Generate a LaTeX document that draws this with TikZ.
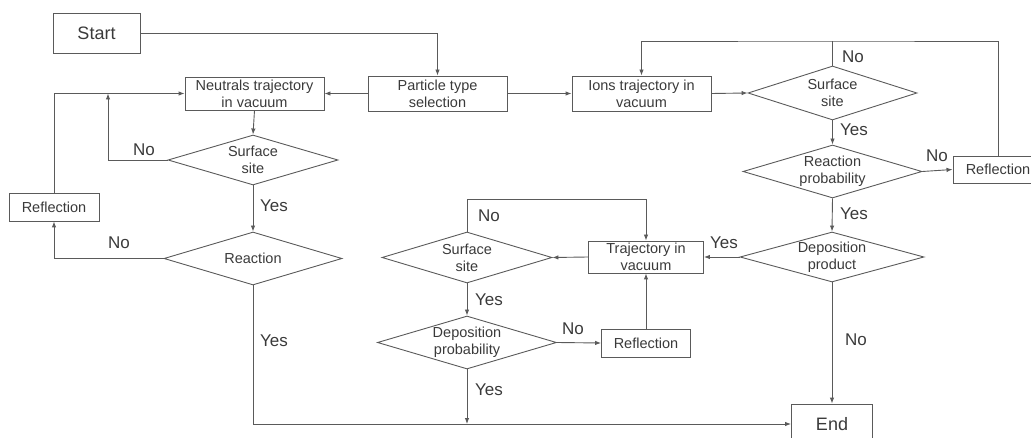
\documentclass[tikz,border=0pt]{standalone}
\usepackage{fontspec}
\setmainfont{Liberation Sans}
\usetikzlibrary{shapes.geometric,arrows.meta}
\definecolor{linegray}{HTML}{5A5A5A}
\definecolor{textgray}{HTML}{3A3A3A}

\begin{document}
\begin{tikzpicture}[x=1pt,y=-1pt,line width=0.9pt,color=linegray,
		>={Latex[length=6pt,width=4.5pt]},
		every node/.style={text=textgray},
		txt/.style={font=\fontsize{14.5}{17}\selectfont,align=center},
		box/.style={txt,draw,rectangle,inner sep=1pt},
		terminal/.style={draw,rectangle,inner sep=1pt,font=\fontsize{18}{22}\selectfont},
		decision/.style={draw,diamond,inner sep=0pt},
		answer/.style={font=\fontsize{17}{20}\selectfont,inner sep=0pt}]
	\useasboundingbox (0,0) rectangle (1031,438);

	\node[terminal,minimum width=87pt,minimum height=40pt] (start) at (96.5,33) {Start};
	\node[box,minimum width=139pt,minimum height=33pt] (neut) at (254.5,93.5) {Neutrals trajectory\\in vacuum};
	\node[box,minimum width=139pt,minimum height=35pt] (sel) at (437.5,93.5) {Particle type\\selection};
	\node[box,minimum width=139pt,minimum height=35pt] (ions) at (641.5,93.5) {Ions trajectory in\\vacuum};
	\node[decision,minimum width=169pt,minimum height=54pt,label={[txt]center:Surface\\site}] (ss2) at (832.5,93) {};
	\node[decision,minimum width=179pt,minimum height=53pt,label={[txt]center:Reaction\\probability}] (rprob) at (832.5,171.5) {};
	\node[box,minimum width=90pt,minimum height=27pt] (refl2) at (998,169.5) {Reflection};
	\node[decision,minimum width=184pt,minimum height=50pt,label={[txt]center:Deposition\\product}] (dprod) at (832,257) {};
	\node[box,minimum width=115pt,minimum height=32pt] (traj) at (646,257) {Trajectory in\\vacuum};
	\node[decision,minimum width=170pt,minimum height=51pt,label={[txt]center:Surface\\site}] (ss3) at (467,257.5) {};
	\node[decision,minimum width=179pt,minimum height=53pt,label={[txt]center:Deposition\\probability}] (dprob) at (467,342.5) {};
	\node[box,minimum width=89pt,minimum height=28pt] (refl3) at (646,343) {Reflection};
	\node[terminal,minimum width=81pt,minimum height=40pt] (end) at (832,424) {End};
	\node[decision,minimum width=170pt,minimum height=50pt,label={[txt]center:Surface\\site}] (ss1) at (253,160) {};
	\node[decision,minimum width=178pt,minimum height=53pt,label={[txt]center:Reaction}] (react) at (253,258.5) {};
	\node[box,minimum width=90pt,minimum height=28pt] (refl1) at (54,207) {Reflection};

	\coordinate (j1) at (108,93.5);
	\coordinate (t1) at (832.5,41);

	\draw[->] (start.east) -| (sel.north);
	\draw[->] (sel.west) -- (neut.east);
	\draw[->] (sel.east) -- (ions.west);
	\draw[->] (ions.east) -- (ss2.west);
	\draw[->] (neut.south) -- (ss1.north);
	\draw[->] (ss1.south) -- (react.north);
	\draw[->] (ss1.west) -| (j1);
	\draw[->] (react.west) -| (refl1.south);
	\draw[->] (refl1.north) |- (neut.west);
	\draw[->] (react.south) |- (end.west);
	\draw[->] (ss2.south) -- (rprob.north);
	\draw[->] (rprob.east) -- (refl2.west);
	\draw (ss2.north) -- (t1);
	\draw[->] (refl2.north) |- (t1) -| (ions.north);
	\draw[->] (rprob.south) -- (dprod.north);
	\draw[->] (dprod.west) -- (traj.east);
	\draw[->] (dprod.south) -- (end.north);
	\draw[->] (traj.west) -- (ss3.east);
	\draw[->] (ss3.north) -- ++(0,-32) -| (traj.north);
	\draw[->] (ss3.south) -- (dprob.north);
	\draw[->] (dprob.east) -- (refl3.west);
	\draw[->] (refl3.north) -- (traj.south);
	\draw[->] (dprob.south) -- (dprob.south |- end.west);

	\node[answer] (no1) at (144,150) {No};
	\node[answer] (yes1) at (274,206) {Yes};
	\node[answer] (no2) at (119,243) {No};
	\node[answer] (yes2) at (274,341) {Yes};
	\node[answer] (no3) at (853,57) {No};
	\node[answer] (yes3) at (854,130) {Yes};
	\node[answer] (no4) at (937,156) {No};
	\node[answer] (yes4) at (854,214) {Yes};
	\node[answer] (yes5) at (724,243) {Yes};
	\node[answer] (no5) at (489,216) {No};
	\node[answer] (yes6) at (489,300) {Yes};
	\node[answer] (no6) at (573,329) {No};
	\node[answer] (yes7) at (489,390) {Yes};
	\node[answer] (no7) at (856,340) {No};
\end{tikzpicture}
\end{document}
